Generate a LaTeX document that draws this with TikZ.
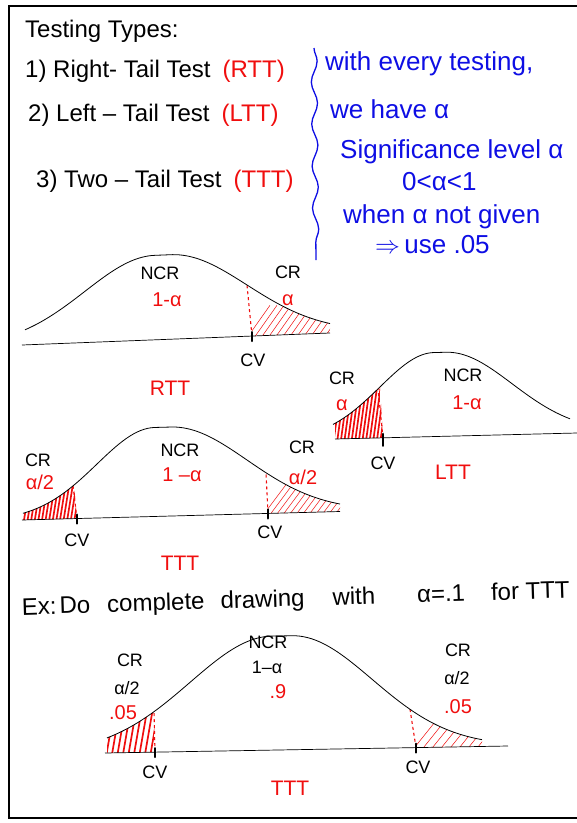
\documentclass[tikz,border=0pt]{standalone}
\usepackage{fontspec}
\setmainfont{Liberation Sans}
\usepackage{xcolor}
\usepackage{tikz}
\usetikzlibrary{decorations.pathmorphing, calc}
\definecolor{penred}{RGB}{240,14,14}
\definecolor{penblue}{RGB}{14,14,228}
\tikzset{
  frame/.style={line width=2pt, color=black},
  curve/.style={line width=0.8pt, color=black},
  axisline/.style={line width=0.7pt, color=black},
  cvtick/.style={line width=2.2pt, color=black, line cap=round},
  critline/.style={dashed, line width=1.1pt, color=penred},
  thinhatch/.style={line width=0.5pt, color=penred},
  thickhatch/.style={line width=1.7pt, color=penred},
  hand/.style={font=\fontsize{24}{27}\selectfont, anchor=base west, inner sep=0pt},
  note/.style={font=\fontsize{26}{29}\selectfont, color=penblue, anchor=base west, inner sep=0pt},
  lbl/.style={font=\fontsize{18}{20}\selectfont, inner sep=0pt},
  redlbl/.style={font=\fontsize{20}{22}\selectfont, color=penred, inner sep=0pt},
  testname/.style={font=\fontsize{21}{24}\selectfont, color=penred, inner sep=0pt}
}

\begin{document}
\begin{tikzpicture}[x=1pt, y=-1pt,
  declare function={
    bump(\x,\ca,\wa,\sa,\sb)=(\x<\ca-\wa) ? exp(-0.5*((\ca-\wa-\x)/\sa)*((\ca-\wa-\x)/\sa))
      : ((\x>\ca+\wa) ? exp(-0.5*((\x-\ca-\wa)/\sb)*((\x-\ca-\wa)/\sb)) : 1);
    rttb(\x)=345-12*(\x-22)/308;
    rttf(\x)=rttb(\x)-84.5*bump(\x,163,8,70,76);
    lttb(\x)=439-6*(\x-335)/242;
    lttf(\x)=lttb(\x)-84*bump(\x,440,6,54,66);
    tttb(\x)=520-8*(\x-22)/300;
    tttf(\x)=tttb(\x)-89*bump(\x,163,8,58,76);
    exb(\x)=753-7*(\x-105)/403;
    exf(\x)=exb(\x)-114*bump(\x,282,10,82,80);
  }]
  \useasboundingbox (0,0) rectangle (577,823);
  \draw[frame] (577,6) -- (9,6) -- (9,818) -- (577,818);

  % Testing types
  \node[hand] (title) at (25,37) {Testing Types:};
  \node[hand] (typeone) at (25,77) {1) Right- Tail Test\hspace{12pt}\textcolor{penred}{(RTT)}};
  \node[hand] (typetwo) at (28,121) {2) Left – Tail Test\hspace{12pt}\textcolor{penred}{(LTT)}};
  \node[hand] (typethree) at (36,187) {3) Two – Tail Test\hspace{12pt}\textcolor{penred}{(TTT)}};

  % Significance level note
  \draw[penblue, line width=1.3pt, decorate, decoration={snake, segment length=42pt, amplitude=3pt}] (314,48) -- (316,260);
  \node[note] (noteone) at (325,70) {with every testing,};
  \node[note] (notetwo) at (330,118) {we have α};
  \node[note] (notethree) at (340,158) {Significance level α};
  \node[note] (notefour) at (402,190) {0<α<1};
  \node[note] (notefive) at (343,223) {when α not given};
  \node[note] (notesix) at (375,253) {$\Rightarrow$\,use .05};

  % Right-tail test
  \coordinate (rttcv) at (252,{rttb(252)});
  \begin{scope}
    \clip (rttcv) -- plot[domain=252:330, samples=40] (\x,{rttf(\x)}) -- (330,{rttb(330)}) -- cycle;
    \foreach \i in {0,...,11} \draw[thinhatch] (246+7*\i,{rttb(246)+3}) -- ++(24,-34);
  \end{scope}
  \draw[critline] (rttcv) -- (247,{rttf(247)});
  \draw[axisline] (22,345) -- (330,333);
  \draw[curve] plot[domain=25:330, samples=90] (\x,{rttf(\x)});
  \draw[cvtick] ([yshift=4pt]rttcv) -- ([yshift=-5pt]rttcv);
  \node[lbl] (rttncr) at (160,273) {NCR};
  \node[redlbl] (rttconf) at (167,300) {1-α};
  \node[lbl] (rttcr) at (288,272) {CR};
  \node[redlbl] (rttalpha) at (288,300) {α};
  \node[lbl] (rttcvlbl) at (253,360) {CV};
  \node[testname] (rttname) at (170,388) {RTT};

  % Left-tail test
  \coordinate (lttcv) at (383,{lttb(383)});
  \begin{scope}
    \clip (335,{lttb(335)}) -- plot[domain=335:380, samples=30] (\x,{lttf(\x)}) -- (lttcv) -- cycle;
    \foreach \i in {0,...,15} \draw[thickhatch] (326+3.6*\i,444) -- ++(8,-58);
  \end{scope}
  \draw[critline] (lttcv) -- (378,{lttf(378)});
  \draw[axisline] (335,439) -- (577,433);
  \draw[curve] plot[domain=333:570, samples=90] (\x,{lttf(\x)});
  \draw[cvtick] ([yshift=4pt]lttcv) -- ([yshift=-8pt]lttcv);
  \node[lbl] (lttcr) at (342,378) {CR};
  \node[redlbl] (lttalpha) at (342,405) {α};
  \node[lbl] (lttncr) at (463,375) {NCR};
  \node[redlbl] (lttconf) at (467,403) {1-α};
  \node[lbl] (lttcvlbl) at (383,463) {CV};
  \node[testname] (lttname) at (453,472) {LTT};

  % Two-tail test
  \coordinate (tttcvl) at (77,{tttb(77)});
  \coordinate (tttcvr) at (268,{tttb(268)});
  \begin{scope}
    \clip (23,{tttb(23)}) -- plot[domain=23:74, samples=30] (\x,{tttf(\x)}) -- (tttcvl) -- cycle;
    \foreach \i in {0,...,16} \draw[thickhatch] (16+3.6*\i,525) -- ++(8,-50);
  \end{scope}
  \begin{scope}
    \clip (tttcvr) -- plot[domain=267:340, samples=40] (\x,{tttf(\x)}) -- (340,{tttb(340)}) -- cycle;
    \foreach \i in {0,...,12} \draw[thinhatch] (262+6.5*\i,{tttb(262)+3}) -- ++(24,-32);
  \end{scope}
  \draw[critline] (tttcvl) -- (73,{tttf(73)});
  \draw[critline] (tttcvr) -- (266,{tttf(266)});
  \draw[axisline] (22,520) -- (340,511.5);
  \draw[curve] plot[domain=23:340, samples=90] (\x,{tttf(\x)});
  \draw[cvtick] ([yshift=4pt]tttcvl) -- ([yshift=-5pt]tttcvl);
  \draw[cvtick] ([yshift=4pt]tttcvr) -- ([yshift=-5pt]tttcvr);
  \node[lbl] (tttcrl) at (38,460) {CR};
  \node[redlbl] (tttalphal) at (40,482) {α/2};
  \node[lbl] (tttncr) at (180,450) {NCR};
  \node[redlbl] (tttconf) at (182,475) {1 –α};
  \node[lbl] (tttcrr) at (302,447) {CR};
  \node[redlbl] (tttalphar) at (303,477) {α/2};
  \node[lbl] (tttcvll) at (77,540) {CV};
  \node[lbl] (tttcvrl) at (270,532) {CV};
  \node[testname] (tttname) at (180,563) {TTT};

  % Example with alpha = .1
  \node[hand, rotate=1.8] (example) at (22,615) {Ex:\hspace{3pt}Do\hspace{17pt}complete\hspace{16pt}drawing\hspace{28pt}with\hspace{42pt}α=.1\hspace{26pt}for TTT};
  \coordinate (excvl) at (155,{exb(155)});
  \coordinate (excvr) at (416,{exb(416)});
  \begin{scope}
    \clip (107,{exb(107)}) -- plot[domain=107:154, samples=30] (\x,{exf(\x)}) -- (excvl) -- cycle;
    \foreach \i in {0,...,10} \draw[thickhatch] (100+5.5*\i,760) -- ++(9,-52);
  \end{scope}
  \begin{scope}
    \clip (excvr) -- plot[domain=410:482, samples=40] (\x,{exf(\x)}) -- (482,{exb(482)}) -- cycle;
    \foreach \i in {0,...,7} \draw[thinhatch] (412+9*\i,{exb(412)+3}) -- ++(24,-30);
  \end{scope}
  \draw[critline] (excvl) -- (154,{exf(154)});
  \draw[critline] (excvr) -- (410,{exf(410)});
  \draw[axisline] (105,753) -- (508,746);
  \draw[curve] plot[domain=107:482, samples=100] (\x,{exf(\x)});
  \draw[cvtick] ([yshift=4pt]excvl) -- ([yshift=-5pt]excvl);
  \draw[cvtick] ([yshift=4pt]excvr) -- ([yshift=-5pt]excvr);
  \node[lbl] (excrl) at (130,660) {CR};
  \node[lbl] (exhalfl) at (127,688) {α/2};
  \node[redlbl] (exvall) at (123,713) {.05};
  \node[lbl] (exncr) at (268,642) {NCR};
  \node[lbl] (exconf) at (267,667) {1–α};
  \node[redlbl] (exconfval) at (278,692) {.9};
  \node[lbl] (excrr) at (458,650) {CR};
  \node[lbl] (exhalfr) at (457,678) {α/2};
  \node[redlbl] (exvalr) at (458,707) {.05};
  \node[lbl] (excvll) at (155,772) {CV};
  \node[lbl] (excvrl) at (418,767) {CV};
  \node[testname] (exname) at (290,788) {TTT};
\end{tikzpicture}
\end{document}
